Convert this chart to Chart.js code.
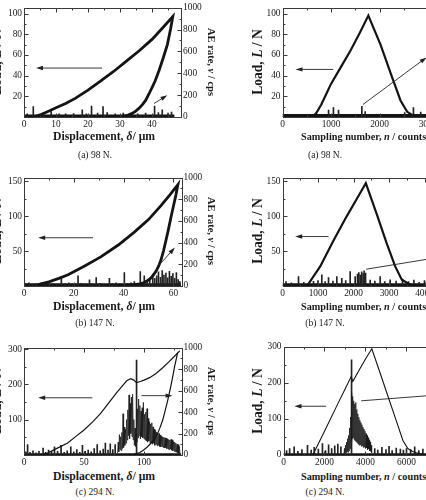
<!DOCTYPE html>
<html><head><meta charset="utf-8">
<script src="https://cdn.jsdelivr.net/npm/chart.js@4.4.1/dist/chart.umd.min.js"></script>
<style>
html,body{margin:0;padding:0;width:426px;height:500px;overflow:hidden;background:#fff;}
canvas{position:absolute;}
.t{position:absolute;font-family:"Liberation Serif","Times New Roman",serif;color:#1a1a1a;white-space:nowrap;line-height:1;}
.xt{font-weight:bold;font-size:11.5px;transform:translate(-50%,-50%);}
.xtl{font-weight:bold;font-size:10px;transform:translate(0,-50%);}
.cap{font-size:9.5px;transform:translate(-50%,-50%);}
.yl{font-weight:bold;font-size:11.5px;transform:translate(-50%,-50%) rotate(-90deg);}
.yr{font-weight:bold;font-size:10.5px;transform:translate(-50%,-50%) rotate(90deg);}
</style></head><body>
<script>
// ---------------- DATA ----------------
// tick labels
const xTicksA1 = [0, 10, 20, 30, 40],  yTicksA1 = [20, 40, 60, 80, 100];
const xTicksB1 = [0, 20, 40, 60],      yTicksB1 = [50, 100, 150];
const xTicksC1 = [0, 50, 100],         yTicksC1 = [100, 200, 300];
const xTicksA2 = [0, 1000, 2000, 3000], yTicksA2 = [20, 40, 60, 80, 100];
const xTicksB2 = [0, 1000, 2000, 3000, 4000], yTicksB2 = [50, 100, 150];
const xTicksC2 = [0, 2000, 4000, 6000], yTicksC2 = [0, 100, 200, 300];
const aeTicks = [0, 200, 400, 600, 800, 1000];

// (a) 98 N : load vs displacement (µm)
const loadA1_x = [3, 5, 8, 10, 13, 16, 20, 24, 28, 32, 36, 40, 43, 46.5, 45.8, 44.8, 43.5, 42.2, 41, 40.1, 39, 38, 37, 35.9, 34.8, 33.8, 32.2, 30.7, 28, 24];
const loadA1_y = [0, 2, 6, 9, 13, 18, 26, 35, 44, 54, 64, 75, 85, 97, 85, 70, 57, 45, 35, 29, 22, 16, 12, 8.3, 5.5, 3.5, 1.5, 0.3, 0, 0];
const aeA1_x = [1, 2.9, 4.5, 6, 8.5, 11, 13, 15.5, 18.2, 19.5, 21.1, 23, 24.7, 26, 28.5, 31, 33, 35.5, 38, 40.8, 42, 43.2, 45, 46.1];
const aeA1_y = [30, 95, 25, 35, 50, 30, 28, 32, 65, 30, 100, 35, 95, 40, 30, 35, 28, 30, 35, 100, 40, 65, 35, 45];
const aeA1_floor_x = [0, 47];
const aeA1_floor = 9;

// (a) 98 N : load vs sampling number
const loadA2_x = [0, 612, 700, 800, 900, 1000, 1200, 1400, 1600, 1770, 2021, 2262, 2433, 2571, 2708, 2845, 3206];
const loadA2_y = [0, 0, 4, 12, 22, 32, 48, 64, 82, 98, 70, 38, 16, 5, 1, 0, 0];
const aeA2_x = [950, 1050, 1155, 1636, 1705, 2520, 2700, 2850];
const aeA2_y = [63, 87, 63, 97, 50, 40, 87, 45];
const aeA2_floor_x = [0, 3206];
const aeA2_floor = 10;

// (b) 147 N : load vs displacement
const loadB1_x = [5.7, 10, 14, 17.7, 24, 31, 38, 44.3, 50, 55, 58.5, 61.8, 61.0, 60.0, 59.0, 58.0, 57.0, 56.0, 55.0, 54.0, 53.0, 52.0, 51.0, 49.5, 48.3, 46.5, 44.3, 41, 37.7];
const loadB1_y = [2, 6, 11, 16, 28, 42, 59, 77, 95, 115, 130, 145, 130, 114, 98, 81, 65, 50, 37, 28, 21, 16, 11.5, 7.5, 5, 3, 2, 1, 0];
const aeB1_x = [0.5, 2, 3.5, 5, 7, 8.5, 10, 11.5, 13, 15, 16.5, 18, 19.5, 21.7, 23, 24.5, 26.3, 27.5, 29, 30.5, 32, 34.3, 35.5, 37, 38.5, 40.3, 41.5, 43, 44.3, 45.5, 46.7, 48.3, 49.5, 50.5, 51.7, 52.5, 53.3, 54, 54.8, 55.5, 56.2, 57, 57.7, 58.4, 59.1, 59.8, 60.5, 61.2, 61.9, 62.6];
const aeB1_y = [25, 30, 18, 22, 29, 15, 20, 24, 18, 88, 22, 30, 20, 94, 25, 18, 58, 20, 78, 25, 18, 70, 22, 30, 18, 124, 25, 30, 40, 22, 133, 94, 40, 60, 110, 70, 95, 130, 80, 142, 100, 120, 75, 135, 90, 115, 70, 125, 60, 40];
const aeB1_floor_x = [0, 63];
const aeB1_floor = 12;

// (b) 147 N : load vs sampling number
const loadB2_x = [0, 690, 1062, 1437, 1812, 2188, 2347, 2657, 2938, 3174, 3361, 3597, 3879, 4380];
const loadB2_y = [0, 0, 28, 65, 100, 133, 147, 102.5, 60.5, 28, 9, 2, 0, 0];
const aeB2_x = [100, 250, 451, 600, 873, 1000, 1107, 1200, 1296, 1420, 1530, 1671, 1780, 1906, 2047, 2113, 2150, 2190, 2230, 2270, 2300, 2340, 2470, 2600, 2751, 2880, 3033, 3200, 3380, 3550, 3700, 3850, 4000];
const aeB2_y = [40, 30, 88, 35, 43, 50, 104, 40, 77, 45, 88, 70, 50, 133, 88, 110, 125, 100, 130, 115, 140, 120, 54, 45, 88, 40, 58, 45, 65, 40, 55, 35, 50];
const aeB2_floor_x = [0, 4380];
const aeB2_floor = 12;

// (c) 294 N : load vs displacement
const loadC1_x = [14.5, 20, 27, 36.4, 43, 50, 57, 63.7, 70, 77.4, 82, 85.6, 88.9, 91.5, 93.8, 97, 100, 104.7, 110, 115.6, 120.5, 125.2, 128, 129.8, 127.9, 125.5, 123.8, 121.8, 119.7, 117.6, 115.6, 113.5, 111.5, 108.8, 106, 102.5, 99.2, 96.5, 93.8, 90.5, 88.3];
const loadC1_y = [0, 6, 18, 34, 52, 71, 93, 117, 145, 177, 196, 210, 216, 212, 205, 208, 212, 219, 231, 247, 263, 279, 289, 295, 288, 250, 219, 186, 154, 125, 99, 79, 62, 46, 34, 22, 13, 7, 4, 1, 0];
const aeC1_x = [1.5, 3, 5, 7.5, 10, 12.5, 15.9, 18, 20.5, 23, 25.4, 28, 30.9, 33.5, 36, 39, 41.5, 44, 46.5, 48.7, 51, 53.5, 56, 58.5, 61, 63.5, 66, 67.8, 70, 71.9, 74, 76, 93.8];
const aeC1_y = [30, 96, 25, 40, 20, 35, 65, 25, 45, 30, 75, 35, 89, 25, 40, 75, 30, 50, 25, 90, 35, 45, 30, 60, 96, 40, 55, 111, 45, 105, 50, 96, 885];
const aeC1_burst_x = [78.0, 78.5, 79.0, 79.5, 80.0, 80.5, 81.0, 81.5, 82.0, 82.5, 83.0, 83.5, 84.0, 84.5, 85.0, 85.5, 86.0, 86.5, 87.0, 87.5, 88.0, 88.5, 89.0, 89.5, 90.0, 90.5, 91.0, 91.5, 92.0, 92.5, 93.0, 93.5, 94.0, 94.5, 95.0, 95.5, 96.0, 96.5, 97.0, 97.5, 98.0, 98.5, 99.0, 99.5, 100.0, 100.5, 101.0, 101.5, 102.0, 102.5, 103.0, 103.5, 104.0, 104.5, 105.0, 105.5, 106.0, 106.5, 107.0, 107.5, 108.0, 108.5, 109.0, 109.5, 110.0, 110.5, 111.0, 111.5, 112.0, 112.5, 113.0, 113.5, 114.0, 114.5, 115.0, 115.5, 116.0, 116.5, 117.0, 117.5, 118.0, 118.5, 119.0, 119.5, 120.0, 120.5, 121.0, 121.5, 122.0, 122.5, 123.0, 123.5, 124.0, 124.5, 125.0, 125.5, 126.0, 126.5, 127.0, 127.5, 128.0, 128.5, 129.0, 129.5, 130.0];
const aeC1_burst_y = [15, 120, 30, 190, 50, 170, 40, 210, 60, 384, 70, 260, 90, 240, 110, 330, 140, 420, 180, 560, 150, 480, 200, 540, 170, 566, 140, 330, 90, 250, 80, 200, 120, 430, 160, 521, 180, 460, 150, 410, 170, 440, 160, 490, 150, 380, 140, 400, 130, 432, 120, 340, 130, 310, 110, 290, 120, 300, 100, 262, 110, 240, 90, 230, 100, 215, 85, 205, 90, 200, 80, 185, 75, 175, 80, 170, 70, 165, 65, 160, 70, 157, 60, 150, 55, 145, 50, 140, 55, 145, 45, 141, 40, 125, 35, 120, 30, 110, 25, 100, 20, 96, 15, 80, 10];
const aeC1_floor_x = [0, 131];
const aeC1_floor = 8;

// (c) 294 N : load vs sampling number
const loadC2_x = [0, 1430, 2000, 2600, 3000, 3300, 3382, 3700, 4000, 4309, 4700, 5100, 5500, 5820, 6064, 6300, 6472, 6960, 7537];
const loadC2_y = [0, 0, 66, 136, 182, 217, 204, 236, 266, 294, 229, 162, 95, 41, 18, 10, 6, 0, 0];
const aeC2_x = [150, 300, 520, 700, 900, 1170, 1350, 1500, 1700, 1900, 2050, 2200, 2350, 2500, 2650, 2800, 4450, 4600, 4800, 5000, 5150, 5300, 5500, 5700, 5850, 6000, 6200, 6400, 6600, 6800, 7000, 3320];
const aeC2_y = [40, 60, 75, 35, 50, 90, 45, 70, 55, 106, 40, 95, 60, 85, 100, 75, 60, 45, 70, 50, 80, 40, 65, 55, 45, 60, 50, 75, 40, 55, 45, 879];
const aeC2_burst_x = [2950, 2975, 3000, 3025, 3050, 3075, 3100, 3125, 3150, 3175, 3200, 3225, 3250, 3275, 3300, 3325, 3350, 3375, 3400, 3425, 3450, 3475, 3500, 3525, 3550, 3575, 3600, 3625, 3650, 3675, 3700, 3725, 3750, 3775, 3800, 3825, 3850, 3875, 3900, 3925, 3950, 3975, 4000, 4025, 4050, 4075, 4100, 4125, 4150, 4175, 4200, 4225, 4250, 4275, 4300];
const aeC2_burst_y = [10, 60, 15, 90, 20, 120, 30, 150, 25, 180, 40, 250, 60, 350, 120, 575, 150, 540, 160, 500, 140, 470, 130, 485, 120, 420, 110, 380, 100, 348, 90, 320, 95, 300, 80, 280, 85, 257, 70, 240, 75, 220, 60, 197, 65, 180, 50, 160, 55, 140, 40, 121, 35, 90, 20];
const aeC2_floor_x = [0, 7537];
const aeC2_floor = 8;

// arrows (data coordinates: x, load)
const arrowsA1 = [{x1: 24.4, y1: 47.3, x2: 3.75, y2: 47.3}, {x1: 40.6, y1: 13, x2: 44.8, y2: 21}];
const arrowsB1 = [{x1: 27.7, y1: 69, x2: 5.7, y2: 69}, {x1: 54.3, y1: 30, x2: 60.6, y2: 55}];
const arrowsC1 = [{x1: 56.9, y1: 162, x2: 11.8, y2: 162}, {x1: 97.9, y1: 168, x2: 123.8, y2: 168}];
const arrowsA2 = [{x1: 1045, y1: 46, x2: 268, y2: 46}, {x1: 1656, y1: 12, x2: 2970, y2: 57.6}];
const arrowsB2 = [{x1: 1296, y1: 70.7, x2: 358, y2: 70.7}, {x1: 2357, y1: 24, x2: 4360, y2: 40.6}];
const arrowsC2 = [{x1: 2083, y1: 135, x2: 537, y2: 135}, {x1: 3790, y1: 150, x2: 7480, y2: 166}];

// ---------------- DRAWING ----------------
const FONT = '"Liberation Serif","Times New Roman",serif';
Chart.defaults.font.family = FONT;
Chart.defaults.color = '#222';
const pts = (xs, ys) => xs.map((x, i) => ({x: x, y: ys[i]}));

function drawFrame(chart, p) {
  const ctx = chart.ctx, a = chart.chartArea, xs = chart.scales.x, yl = chart.scales.yL, ya = chart.scales.yA;
  ctx.save();
  ctx.strokeStyle = '#3a3a3a'; ctx.lineWidth = 1;
  const L = Math.round(a.left) + 0.5, R = Math.round(a.right) + 0.5, T = Math.round(a.top) + 0.5, B = Math.round(a.bottom) + 0.5;
  ctx.strokeRect(L, T, R - L, B - T);
  ctx.beginPath();
  const each = (s, arr, fn) => {
    const step = arr[1] - arr[0], half = step / 2;
    for (let v = Math.ceil(s.min / half) * half; v <= s.max + 1e-9; v += half) {
      const major = Math.abs(v / step - Math.round(v / step)) < 1e-6;
      fn(s.getPixelForValue(v), major ? 4 : 2);
    }
  };
  each(xs, p.xTicks, (px, len) => { px = Math.round(px) + 0.5; ctx.moveTo(px, B); ctx.lineTo(px, B - len); ctx.moveTo(px, T); ctx.lineTo(px, T + len); });
  each(yl, p.yTicks, (py, len) => { py = Math.round(py) + 0.5; ctx.moveTo(L, py); ctx.lineTo(L + len, py); if (!p.showAE) { ctx.moveTo(R, py); ctx.lineTo(R - len, py); } });
  if (p.showAE) each(ya, aeTicks, (py, len) => { py = Math.round(py) + 0.5; ctx.moveTo(R, py); ctx.lineTo(R - len, py); });
  ctx.stroke();
  ctx.restore();
}

function drawArrows(chart, list) {
  const ctx = chart.ctx, xs = chart.scales.x, ys = chart.scales.yL;
  ctx.save();
  ctx.strokeStyle = '#222'; ctx.fillStyle = '#222'; ctx.lineWidth = 0.9;
  for (const a of list) {
    const x1 = xs.getPixelForValue(a.x1), y1 = ys.getPixelForValue(a.y1);
    const x2 = xs.getPixelForValue(a.x2), y2 = ys.getPixelForValue(a.y2);
    const ang = Math.atan2(y2 - y1, x2 - x1), c = Math.cos(ang), s = Math.sin(ang);
    const hl = 7, hw = 2.2;
    ctx.beginPath(); ctx.moveTo(x1, y1); ctx.lineTo(x2 - hl * 0.7 * c, y2 - hl * 0.7 * s); ctx.stroke();
    ctx.beginPath(); ctx.moveTo(x2, y2);
    ctx.lineTo(x2 - hl * c + hw * s, y2 - hl * s - hw * c);
    ctx.lineTo(x2 - hl * c - hw * s, y2 - hl * s + hw * c);
    ctx.closePath(); ctx.fill();
  }
  ctx.restore();
}

function makePanel(p) {
  const cv = document.createElement('canvas');
  cv.width = p.w; cv.height = p.h;
  cv.style.left = p.left + 'px'; cv.style.top = p.top + 'px';
  cv.style.width = p.w + 'px'; cv.style.height = p.h + 'px';
  document.body.appendChild(cv);
  const ds = [];
  ds.push({type: 'line', data: pts(p.loadX, p.loadY), yAxisID: 'yL', borderColor: '#141414', borderWidth: p.lw, pointRadius: 0, tension: 0});
  if (p.burstX) ds.push({type: 'line', data: pts(p.burstX, p.burstY), yAxisID: 'yA', borderColor: '#1a1a1a', borderWidth: 0.8, pointRadius: 0, tension: 0});
  ds.push({type: 'bar', data: pts(p.aeX, p.aeY), yAxisID: 'yA', backgroundColor: '#222', barThickness: 1, borderWidth: 0});
  ds.push({type: 'line', data: pts(p.floorX, [p.floor, p.floor]), yAxisID: 'yA', borderColor: '#141414', borderWidth: p.floorW, pointRadius: 0});
  const tickFont = {family: FONT, size: 9.4};
  const setTicks = arr => s => { s.ticks = arr.map(v => ({value: v})); };
  new Chart(cv, {
    type: 'line',
    data: {datasets: ds},
    options: {
      responsive: false, animation: false, devicePixelRatio: 1,
      layout: {autoPadding: false, padding: {top: p.padT, left: 0, right: p.padR, bottom: 0}},
      plugins: {legend: {display: false}, tooltip: {enabled: false}},
      scales: {
        x: {type: 'linear', min: p.xMin, max: p.xMax, offset: false, afterFit: s => { s.height = 15; },
            afterBuildTicks: setTicks(p.xTicks),
            grid: {display: false, drawTicks: false, offset: false}, border: {display: false},
            ticks: {autoSkip: false, maxRotation: 0, padding: 2, color: '#222', font: tickFont, callback: v => String(v)}},
        yL: {type: 'linear', position: 'left', min: 0, max: p.yMax, afterFit: s => { s.width = p.yLw; },
            afterBuildTicks: setTicks(p.yTicks),
            grid: {display: false, drawTicks: false}, border: {display: false},
            ticks: {padding: 2, color: '#222', font: tickFont, callback: v => String(v)}},
        yA: {type: 'linear', position: 'right', min: 0, max: 1000, display: p.showAE, afterFit: s => { s.width = p.yRw; },
            afterBuildTicks: setTicks(aeTicks),
            grid: {display: false, drawTicks: false}, border: {display: false},
            ticks: {padding: 2, color: '#222', font: tickFont, callback: v => String(v)}}
      }
    },
    plugins: [{id: 'frame' + p.top + p.left, afterDraw: ch => drawFrame(ch, p)},
              {id: 'arrows' + p.top + p.left, afterDatasetsDraw: ch => drawArrows(ch, p.arrows)}]
  });
}

// left column
makePanel({left: 0, top: 0, w: 210, h: 132, padT: 6, padR: 0, yLw: 24, yRw: 29, showAE: true,
  xMin: 0, xMax: 49.06, xTicks: xTicksA1, yMax: 105.7, yTicks: yTicksA1, lw: 2.8,
  loadX: loadA1_x, loadY: loadA1_y, aeX: aeA1_x, aeY: aeA1_y, floorX: aeA1_floor_x, floor: aeA1_floor, floorW: 3, arrows: arrowsA1});
makePanel({left: 0, top: 170, w: 210, h: 131, padT: 6, padR: 0, yLw: 24, yRw: 28.5, showAE: true,
  xMin: 0, xMax: 63.25, xTicks: xTicksB1, yMax: 155, yTicks: yTicksB1, lw: 2.8,
  loadX: loadB1_x, loadY: loadB1_y, aeX: aeB1_x, aeY: aeB1_y, floorX: aeB1_floor_x, floor: aeB1_floor, floorW: 3, arrows: arrowsB1});
makePanel({left: 0, top: 340, w: 210, h: 130, padT: 6, padR: 0, yLw: 24, yRw: 28.5, showAE: true,
  xMin: 0, xMax: 131.25, xTicks: xTicksC1, yMax: 304, yTicks: yTicksC1, lw: 1.2,
  loadX: loadC1_x, loadY: loadC1_y, aeX: aeC1_x, aeY: aeC1_y, burstX: aeC1_burst_x, burstY: aeC1_burst_y,
  floorX: aeC1_floor_x, floor: aeC1_floor, floorW: 2, arrows: arrowsC1});
// right column
makePanel({left: 250, top: 0, w: 200, h: 132, padT: 6, padR: 12, yLw: 32.5, yRw: 0, showAE: false,
  xMin: 0, xMax: 3206, xTicks: xTicksA2, yMax: 105.7, yTicks: yTicksA2, lw: 2.2,
  loadX: loadA2_x, loadY: loadA2_y, aeX: aeA2_x, aeY: aeA2_y, floorX: aeA2_floor_x, floor: aeA2_floor, floorW: 4, arrows: arrowsA2});
makePanel({left: 250, top: 170, w: 200, h: 131, padT: 6, padR: 12, yLw: 32.5, yRw: 0, showAE: false,
  xMin: 0, xMax: 4380, xTicks: xTicksB2, yMax: 155, yTicks: yTicksB2, lw: 2.2,
  loadX: loadB2_x, loadY: loadB2_y, aeX: aeB2_x, aeY: aeB2_y, floorX: aeB2_floor_x, floor: aeB2_floor, floorW: 3, arrows: arrowsB2});
makePanel({left: 250, top: 339, w: 200, h: 131, padT: 6, padR: 12, yLw: 33.5, yRw: 0, showAE: false,
  xMin: 0, xMax: 7537, xTicks: xTicksC2, yMax: 300, yTicks: yTicksC2, lw: 1.1,
  loadX: loadC2_x, loadY: loadC2_y, aeX: aeC2_x, aeY: aeC2_y, burstX: aeC2_burst_x, burstY: aeC2_burst_y,
  floorX: aeC2_floor_x, floor: aeC2_floor, floorW: 2, arrows: arrowsC2});

// ---------------- TEXT ----------------
function txt(cls, x, y, html, targetW) {
  const d = document.createElement('div');
  d.className = 't ' + cls; d.innerHTML = html;
  document.body.appendChild(d);
  if (targetW) {
    const w = d.offsetWidth, fs = parseFloat(getComputedStyle(d).fontSize);
    d.style.fontSize = (fs * targetW / w).toFixed(2) + 'px';
  }
  d.style.left = x + 'px'; d.style.top = y + 'px';
}
const rows = [{mid: 61.5, xt: 137, cap: 155.7, lab: '(a) 98 N.'}, {mid: 231, xt: 306.7, cap: 324, lab: '(b) 147 N.'}, {mid: 400.5, xt: 476.7, cap: 493.3, lab: '(c) 294 N.'}];
for (const r of rows) {
  txt('xt', 104, r.xt, 'Displacement, <i>δ</i>/ μm', 102);
  txt('cap', 95, r.cap, r.lab);
  txt('yl', -3, r.mid, 'Load, <i>L</i> / N', 66);
  txt('yr', 211, r.mid, 'AE rate, <i>ν</i> / cps', 68);
  txt('xtl', 301, r.xt, 'Sampling number, <i>n</i> / counts', 125);
  txt('cap', 325, r.cap, r.lab);
  txt('yl', 257.5, r.mid, 'Load, <i>L</i> / N', 66);
}
</script>
</body></html>
